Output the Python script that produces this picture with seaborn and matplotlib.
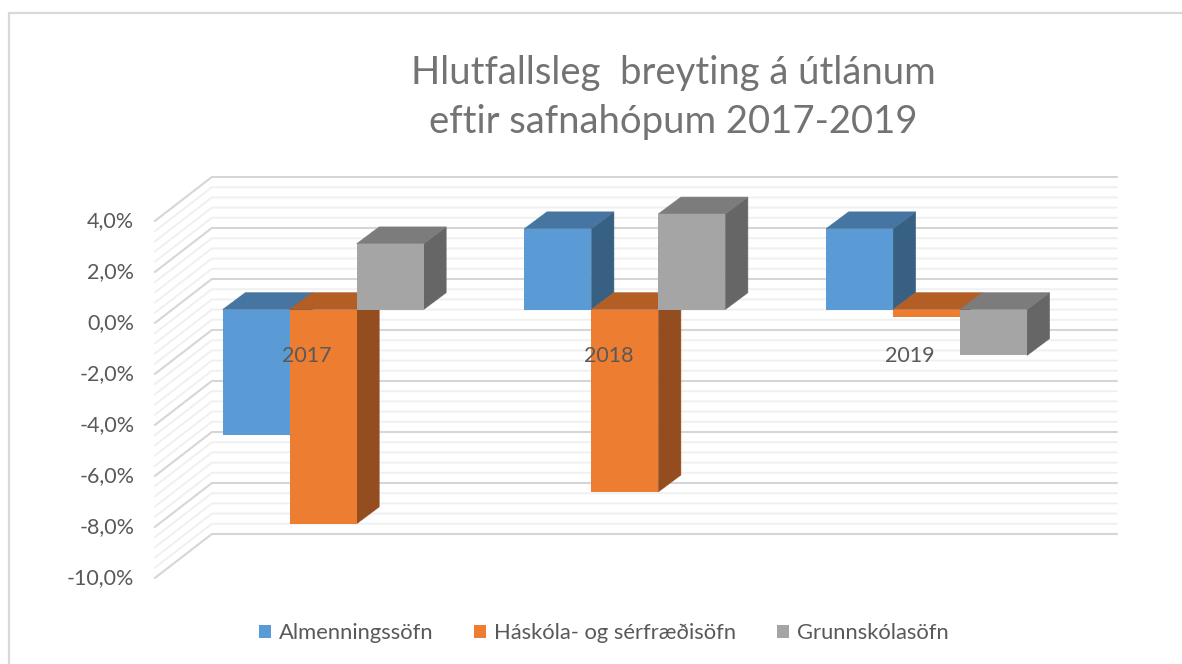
import numpy as np
import pandas as pd
import seaborn as sns
import matplotlib
matplotlib.use("Agg")
import matplotlib.pyplot as plt
from matplotlib.patches import Polygon, Patch
from matplotlib.lines import Line2D
from matplotlib.transforms import Affine2D, IdentityTransform

years = ["2017", "2018", "2019"]
almenn = [-4.93, 3.17, 3.17]
haskola = [-8.4, -7.15, -0.3]
grunn = [2.58, 3.75, -1.8]
series_names = ["Almenningssöfn", "Háskóla- og sérfræðisöfn", "Grunnskólasöfn"]
front_cols = ["#5B9BD5", "#ED7D31", "#A5A5A5"]
top_cols = ["#4575A0", "#B25E25", "#7C7C7C"]
side_cols = ["#386083", "#934D1E", "#666666"]
y_ticks = [4, 2, 0, -2, -4, -6, -8, -10]
y_labels = ["4,0%", "2,0%", "0,0%", "-2,0%", "-4,0%", "-6,0%", "-8,0%", "-10,0%"]
title_text = "Hlutfallsleg  breyting á útlánum\neftir safnahópum 2017-2019"

df = pd.DataFrame({
    "year": years * 3,
    "group": sum([[n] * 3 for n in series_names], []),
    "value": almenn + haskola + grunn,
})

sns.set_theme(style="white")
plt.rcParams["font.family"] = ["Lato", "DejaVu Sans"]
W, H = 1182, 664
fig = plt.figure(figsize=(W / 100, H / 100), dpi=100, facecolor="white")
ax = fig.add_axes([172.35 / W, (H - 564.5) / H, 905.1 / W, 357 / H])
sns.barplot(data=df, x="year", y="value", hue="group", hue_order=series_names,
            palette=front_cols, saturation=1, width=0.666, gap=0, dodge=True,
            errorbar=None, ax=ax, legend=False, zorder=3, linewidth=0)
ax.set_xlim(-0.5, 2.5)
ax.set_ylim(-10, 4)
ax.set_autoscale_on(False)
ax.patch.set_visible(False)
for s in ax.spines.values():
    s.set_visible(False)
ax.set_xlabel("")
ax.set_ylabel("")

# depth offsets in pixels (display y is up)
BACK = (39.5, 30.5)
FRONT = (-17.5, -13.5)
BAR = (22.5, 16.8)


def px(x, y, off=(0, 0)):
    p = ax.transData.transform((x, y))
    return (p[0] + off[0], p[1] + off[1])


# walls
for v in np.arange(-50, 21) * 0.2:
    if int(round(v * 5)) % 2:
        continue
    major = int(round(v * 5)) % 10 == 0
    col, lw = ("#D6D6D6", 1.5) if major else ("#F0F0F0", 1.4)
    zo = 0.6 if major else 0.5
    a = px(-0.5, v, FRONT)
    b = px(-0.5, v, BACK)
    c = px(2.5, v, BACK)
    ax.add_line(Line2D([a[0], b[0], c[0]], [a[1], b[1], c[1]], color=col, lw=lw,
                       transform=IdentityTransform(), zorder=zo, clip_on=False,
                       solid_joinstyle="miter"))

# depth faces of each bar, built from the bars seaborn drew
for k, cont in enumerate(ax.containers):
    for bar in cont:
        x0, w = bar.get_x(), bar.get_width()
        y0, h = bar.get_y(), bar.get_height()
        lo, hi = min(y0, y0 + h), max(y0, y0 + h)
        top = [px(x0, hi), px(x0 + w, hi), px(x0 + w, hi, BAR), px(x0, hi, BAR)]
        side = [px(x0 + w, lo), px(x0 + w, hi), px(x0 + w, hi, BAR), px(x0 + w, lo, BAR)]
        ax.add_patch(Polygon(side, closed=True, fc=side_cols[k], ec=side_cols[k], lw=0.4,
                             transform=IdentityTransform(), zorder=1.5, clip_on=False))
        ax.add_patch(Polygon(top, closed=True, fc=top_cols[k], ec=top_cols[k], lw=0.4,
                             transform=IdentityTransform(), zorder=1.6, clip_on=False))

# axis labels
text_col = "#595959"
ax.set_axisbelow(False)
ax.set_yticks(y_ticks)
ax.set_yticklabels(y_labels, fontsize=15.5, color=text_col)
ax.tick_params(axis="both", length=0, pad=0)
for lab in ax.get_yticklabels():
    lab.set_transform(lab.get_transform() + Affine2D().translate(-38, -11.5))
ax.set_xticks(range(len(years)))
ax.set_xticklabels(years, fontsize=15.5, color=text_col)
for lab in ax.get_xticklabels():
    lab.set_transform(lab.get_transform() + Affine2D().translate(-16.5, 218))
    lab.set_zorder(6)
ax.xaxis.set_zorder(6)

fig.text(673 / W, 1 - 97.5 / H, title_text, ha="center", va="center", fontsize=27.5,
         color="#737373", linespacing=1.42)

handles = [Patch(fc=c, ec="none") for c in front_cols]
fig.legend(handles, series_names, loc="center", bbox_to_anchor=(603.5 / W, 1 - 633 / H),
           ncol=3, frameon=False, fontsize=15.8, labelcolor=text_col,
           handlelength=0.55, handleheight=0.55, handletextpad=0.36, columnspacing=1.85)

# chart frame
for xs, ys in (([9.5, W], [12.5, 12.5]), ([9.5, 9.5], [12.5, H])):
    fig.add_artist(Line2D([x / W for x in xs], [1 - y / H for y in ys],
                          color="#D9D9D9", lw=1.6, transform=fig.transFigure))

fig.savefig("out.png", dpi=100, facecolor="white")
